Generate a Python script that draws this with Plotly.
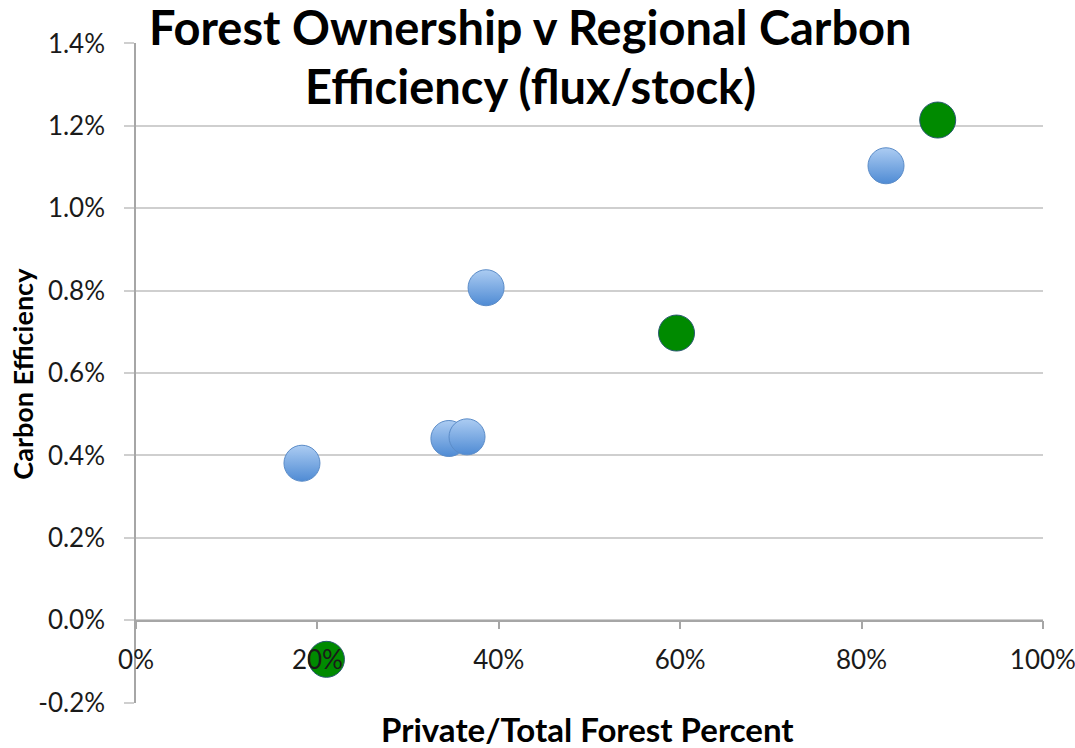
import plotly.graph_objects as go

# ---- data ----
blue_private_share = [0.183, 0.345, 0.365, 0.386, 0.827]
blue_carbon_eff = [0.00381, 0.00441, 0.00445, 0.00807, 0.01103]

green_private_share = [0.210, 0.596, 0.884]
green_carbon_eff = [-0.00095, 0.00697, 0.01214]

x_tick_vals = [0.0, 0.2, 0.4, 0.6, 0.8, 1.0]
x_tick_text = ["0%", "20%", "40%", "60%", "80%", "100%"]
y_tick_vals = [-0.002, 0.0, 0.002, 0.004, 0.006, 0.008, 0.010, 0.012, 0.014]
y_tick_text = ["-0.2%", "0.0%", "0.2%", "0.4%", "0.6%", "0.8%", "1.0%", "1.2%", "1.4%"]

title_lines = ["Forest Ownership v Regional Carbon", "Efficiency (flux/stock)"]
x_title = "Private/Total Forest Percent"
y_title = "Carbon Efficiency"

FONT = "Lato"
TXT = "#1a1a1a"
GRID = "#cfcfcf"
AXIS = "#a6a6a6"

fig = go.Figure()
fig.add_trace(go.Scatter(
    x=blue_private_share, y=blue_carbon_eff, mode="markers",
    marker=dict(size=36, color="#acccf2",
                gradient=dict(type="vertical", color="#4f8bd4"),
                line=dict(color="#5b8cc8", width=1)),
    showlegend=False, hoverinfo="x+y"))
fig.add_trace(go.Scatter(
    x=green_private_share, y=green_carbon_eff, mode="markers",
    marker=dict(size=36, color="#008a00",
                line=dict(color="#2a5a72", width=1)),
    showlegend=False, hoverinfo="x+y"))

fig.update_layout(
    width=1075, height=748,
    margin=dict(l=136, r=32, t=43, b=45, autoexpand=False),
    paper_bgcolor="white", plot_bgcolor="white",
    font=dict(family=FONT, color=TXT),
    xaxis=dict(range=[0, 1.0001], tickvals=x_tick_vals, ticktext=x_tick_text,
               showgrid=False, zeroline=False, automargin=False,
               anchor="free", position=0.125,
               showline=True, linecolor=AXIS, linewidth=1.5,
               ticks="outside", ticklen=8, tickcolor=AXIS, tickwidth=1.5,
               ticklabelstandoff=9, ticklabeloverflow="allow",
               tickfont=dict(family=FONT, size=26, color=TXT)),
    yaxis=dict(range=[-0.00201, 0.01401], tickvals=y_tick_vals, ticktext=y_tick_text,
               showgrid=True, gridcolor=GRID, gridwidth=2, zeroline=False,
               automargin=False,
               showline=True, linecolor=AXIS, linewidth=1.5,
               ticks="outside", ticklen=10, tickcolor=GRID, tickwidth=2,
               ticklabelstandoff=14,
               tickfont=dict(family=FONT, size=26, color=TXT)),
    annotations=[
        dict(text="<b>%s</b>" % title_lines[0], xref="paper", yref="paper",
             x=0.4345, y=1.025, xanchor="center", yanchor="middle",
             showarrow=False, font=dict(family=FONT, size=47, color="black")),
        dict(text="<b>%s</b>" % title_lines[1], xref="paper", yref="paper",
             x=0.4345, y=0.935, xanchor="center", yanchor="middle",
             showarrow=False, font=dict(family=FONT, size=47, color="black")),
        dict(text="<b>%s</b>" % x_title, xref="paper", yref="paper",
             x=0.4975, y=-0.040, xanchor="center", yanchor="middle",
             showarrow=False, font=dict(family=FONT, size=33, color="black")),
        dict(text="<b>%s</b>" % y_title, xref="paper", yref="paper",
             x=-0.1246, y=0.499, xanchor="center", yanchor="middle",
             textangle=-90,
             showarrow=False, font=dict(family=FONT, size=27, color="black")),
    ],
)

fig.write_html("out.html",
               config={"displayModeBar": False},
               post_script="document.body.style.margin='0';document.body.style.overflow='hidden';")
